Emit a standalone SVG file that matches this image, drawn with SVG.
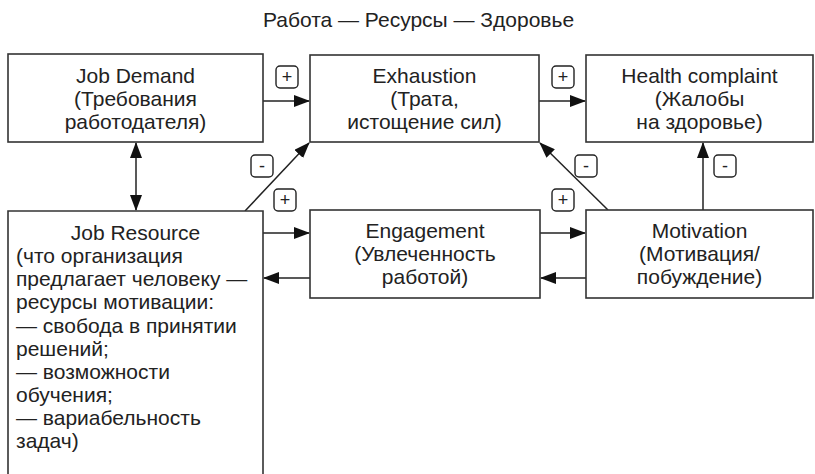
<svg xmlns="http://www.w3.org/2000/svg" width="815" height="474" viewBox="0 0 815 474">
<style>
.box{fill:#fff;stroke:#333;stroke-width:1.6}
.t{font-family:"Liberation Sans",Arial,sans-serif;font-size:21px;fill:#222}
.c{text-anchor:middle}
.ln{stroke:#222;stroke-width:1.5;fill:none}
.lb{fill:#fff;stroke:#222;stroke-width:1.4}
.lt{font-family:"Liberation Sans",Arial,sans-serif;font-size:18px;fill:#222;text-anchor:middle}
</style>
<defs>
<marker id="ah" markerUnits="userSpaceOnUse" markerWidth="16" markerHeight="12" refX="15" refY="6" orient="auto-start-reverse">
<path d="M0,0 L16,6 L0,12 z" fill="#111"/>
</marker>
</defs>
<rect width="815" height="474" fill="#fff"/>
<text class="t c" x="418.5" y="27">Работа — Ресурсы — Здоровье</text>

<g id="connectors">
<path class="ln" d="M263,101 H309" marker-end="url(#ah)"/>
<path class="ln" d="M539,101 H585" marker-end="url(#ah)"/>
<path class="ln" d="M136,143 V210" marker-start="url(#ah)" marker-end="url(#ah)"/>
<path class="ln" d="M245,211 L309,143" marker-end="url(#ah)"/>
<path class="ln" d="M263,233 H309" marker-end="url(#ah)"/>
<path class="ln" d="M310,278 H264" marker-end="url(#ah)"/>
<path class="ln" d="M540,233 H585" marker-end="url(#ah)"/>
<path class="ln" d="M586,278 H541" marker-end="url(#ah)"/>
<path class="ln" d="M608,210 L540,143" marker-end="url(#ah)"/>
<path class="ln" d="M703,210 V143" marker-end="url(#ah)"/>
<g id="labels">
<rect class="lb" x="276" y="66" width="22" height="22" rx="4"/><text class="lt" x="287" y="83">+</text>
<rect class="lb" x="552" y="66" width="22" height="22" rx="4"/><text class="lt" x="563" y="83">+</text>
<rect class="lb" x="251" y="155" width="22" height="22" rx="4"/><text class="lt" x="262" y="172">-</text>
<rect class="lb" x="274" y="189" width="22" height="22" rx="4"/><text class="lt" x="285" y="206">+</text>
<rect class="lb" x="575" y="155" width="22" height="22" rx="4"/><text class="lt" x="586" y="172">-</text>
<rect class="lb" x="552" y="189" width="22" height="22" rx="4"/><text class="lt" x="563" y="206">+</text>
<rect class="lb" x="714" y="155" width="22" height="22" rx="4"/><text class="lt" x="725" y="172">-</text>
</g>
</g>

<g id="job-demand">
<rect class="box" x="8" y="54" width="255" height="88"/>
<text class="t c" x="135.5" y="83">Job Demand</text>
<text class="t c" x="135.5" y="106">(Требования</text>
<text class="t c" x="135.5" y="129">работодателя)</text>
</g>

<g id="exhaustion">
<rect class="box" x="310" y="55" width="229" height="87"/>
<text class="t c" x="424.5" y="83">Exhaustion</text>
<text class="t c" x="424.5" y="106">(Трата,</text>
<text class="t c" x="424.5" y="129">истощение сил)</text>
</g>

<g id="health-complaint">
<rect class="box" x="586" y="55" width="227" height="87"/>
<text class="t c" x="699.5" y="83">Health complaint</text>
<text class="t c" x="699.5" y="106">(Жалобы</text>
<text class="t c" x="699.5" y="129">на здоровье)</text>
</g>

<g id="job-resource">
<path class="box" d="M8,480 V211 H263 V480"/>
<text class="t c" x="135.5" y="240">Job Resource</text>
<text class="t" x="16" y="263">(что организация</text>
<text class="t" x="16" y="286">предлагает человеку —</text>
<text class="t" x="16" y="309">ресурсы мотивации:</text>
<text class="t" x="16" y="333">— свобода в принятии</text>
<text class="t" x="16" y="356">решений;</text>
<text class="t" x="16" y="379">— возможности</text>
<text class="t" x="16" y="402">обучения;</text>
<text class="t" x="16" y="425">— вариабельность</text>
<text class="t" x="16" y="448">задач)</text>
</g>

<g id="engagement">
<rect class="box" x="310" y="210" width="230" height="88"/>
<text class="t c" x="425" y="238">Engagement</text>
<text class="t c" x="425" y="261">(Увлеченность</text>
<text class="t c" x="425" y="284">работой)</text>
</g>

<g id="motivation">
<rect class="box" x="586" y="210" width="227" height="88"/>
<text class="t c" x="699.5" y="238">Motivation</text>
<text class="t c" x="699.5" y="261">(Мотивация/</text>
<text class="t c" x="699.5" y="284">побуждение)</text>
</g>
</svg>
